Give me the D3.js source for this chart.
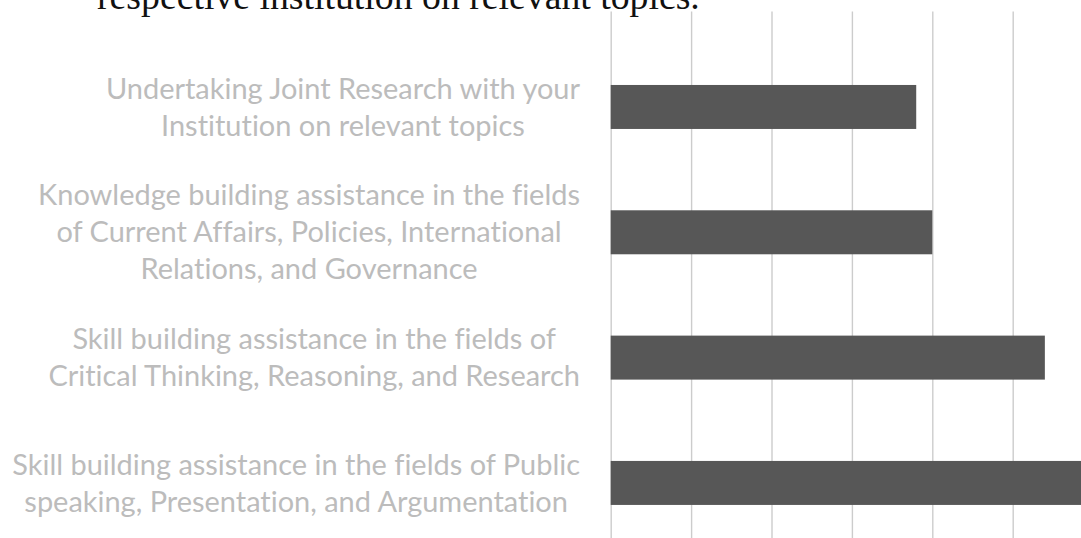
<!DOCTYPE html>
<html>
<head>
<meta charset="utf-8">
<script src="https://cdn.jsdelivr.net/npm/d3@7"></script>
<style>
html,body{margin:0;padding:0;background:#fff;}
svg{display:block;}
text{font-variant-ligatures:none;font-feature-settings:"liga" 0;}
</style>
</head>
<body>
<svg id="chart" width="1081" height="538"></svg>
<script>
// ---- data ----
const categories = [
  ["Undertaking Joint Research with your", "Institution on relevant topics"],
  ["Knowledge building assistance in the fields", "of Current Affairs, Policies, International", "Relations, and Governance"],
  ["Skill building assistance in the fields of", "Critical Thinking, Reasoning, and Research"],
  ["Skill building assistance in the fields of Public", "speaking, Presentation, and Argumentation"]
];
const values = [19, 20, 27, 31];
const tickValues = [0, 5, 10, 15, 20, 25, 30, 35];
const captionText = "respective institution on relevant topics.";

// ---- layout ----
const W = 1081, H = 538;
const plotLeft = 610.7, unitPx = 80.4 / 5;
const gridTop = 11.5, gridBottom = 560;
const svg = d3.select("#chart");

const x = d3.scaleLinear().domain([0, 35]).range([plotLeft, plotLeft + 35 * unitPx]);
const ids = categories.map((d, i) => i);
const y = d3.scaleBand().domain(ids).range([44.3, 545.6]).paddingInner(0.649).paddingOuter(0.3245);

// caption text (partially cut off at top, as in the reference)
const cap = svg.append("text")
  .attr("x", 97).attr("y", 8.5)
  .attr("font-family", "'Liberation Serif', serif")
  .attr("font-size", 30)
  .attr("fill", "#111")
  .text(captionText);
const cw = cap.node().getComputedTextLength();
cap.attr("font-size", 30 * 603 / cw);

// gridlines via axis
const gridAxis = d3.axisBottom(x).tickValues(tickValues).tickSize(-(gridBottom - gridTop)).tickFormat("");
const g = svg.append("g").attr("transform", `translate(0,${gridBottom})`).call(gridAxis);
g.select(".domain").remove();
g.selectAll(".tick line").attr("stroke", "#cccccc").attr("stroke-width", 1.4);

// bars
svg.append("g").selectAll("rect").data(values).enter().append("rect")
  .attr("x", x(0))
  .attr("y", (d, i) => y(i))
  .attr("width", d => x(d) - x(0))
  .attr("height", y.bandwidth())
  .attr("fill", "#575757");

// labels
const fontFamily = "Lato, 'Open Sans', sans-serif";
const probe = svg.append("text").attr("font-family", fontFamily).attr("font-size", 30)
  .text("Skill building assistance in the fields of Public");
const pw = probe.node().getComputedTextLength();
probe.remove();
const fs = 30 * 568 / pw;
const lineH = 37;
const labelRight = 580;

const lg = svg.append("g");
categories.forEach((lines, i) => {
  const t = lg.append("text")
    .attr("font-family", fontFamily)
    .attr("font-size", fs)
    .attr("fill", "#bcbcbc")
    .attr("text-anchor", "middle");
  const cy = y(i) + y.bandwidth() / 2;
  let maxW = 0;
  lines.forEach(l => {
    const m = svg.append("text").attr("font-family", fontFamily).attr("font-size", fs).text(l);
    maxW = Math.max(maxW, m.node().getComputedTextLength());
    m.remove();
  });
  const cx = labelRight - maxW / 2;
  const n = lines.length;
  lines.forEach((l, k) => {
    t.append("tspan")
      .attr("x", cx)
      .attr("y", cy + (k - (n - 1) / 2) * lineH)
      .attr("dy", "0.35em")
      .text(l);
  });
});
</script>
</body>
</html>
